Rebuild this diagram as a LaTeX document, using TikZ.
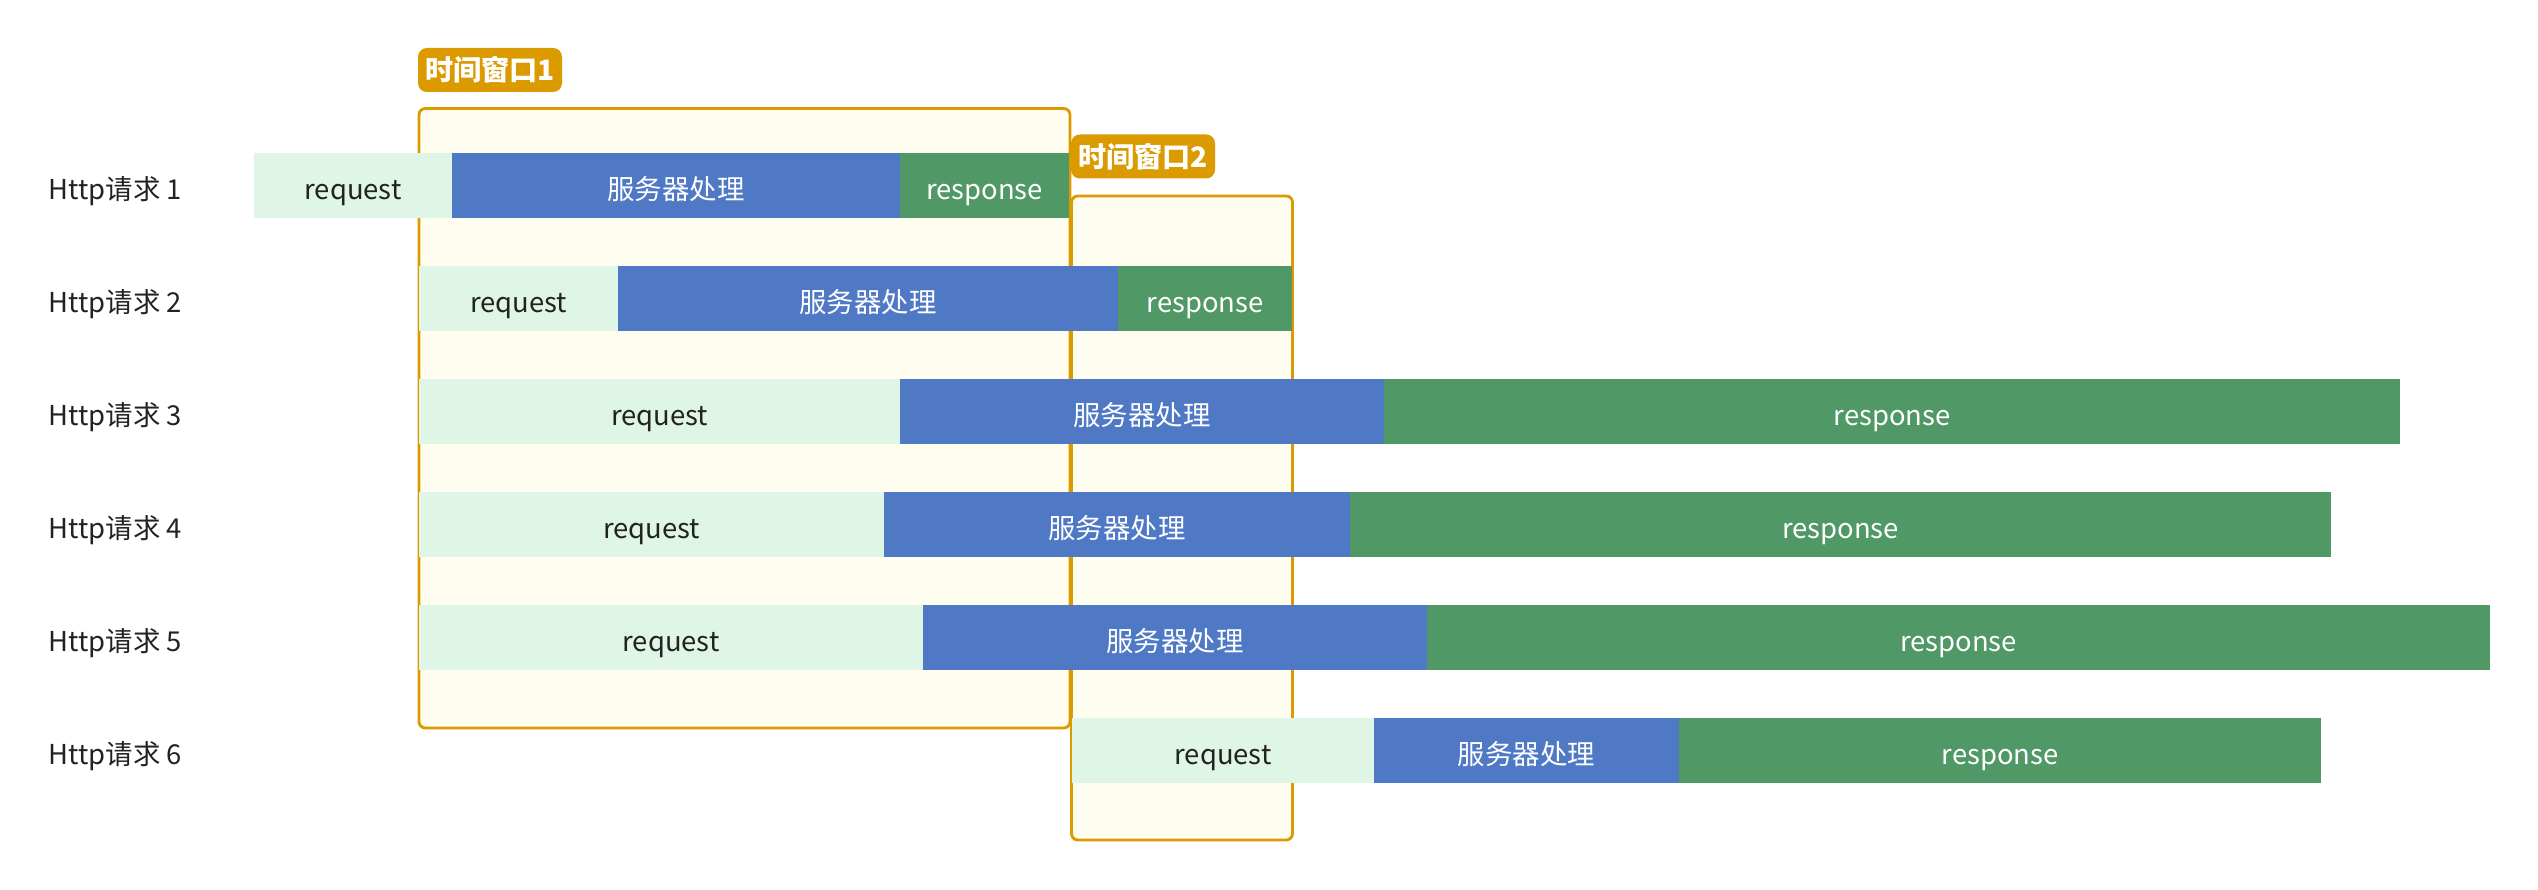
\documentclass[tikz,border=0pt]{standalone}
\usepackage{fontspec}
\setmainfont{Noto Sans CJK SC}
\usetikzlibrary{positioning}

\definecolor{reqfill}{HTML}{DFF5E5}
\definecolor{srvfill}{HTML}{4F78C5}
\definecolor{rspfill}{HTML}{509866}
\definecolor{winfill}{HTML}{FFFCF0}
\definecolor{winline}{HTML}{DA9A00}
\definecolor{inkdark}{HTML}{222222}

\tikzset{
  bar/.style={rectangle,inner sep=0pt,outer sep=0pt,minimum height=0.65cm,
    text height=0.8em,text depth=0pt,font=\fontsize{7.8}{9}\selectfont},
  reqbar/.style={bar,fill=reqfill,text=inkdark},
  srvbar/.style={bar,fill=srvfill,text=white},
  rspbar/.style={bar,fill=rspfill,text=white},
  rowlabel/.style={inner sep=0pt,text=inkdark,text height=0.8em,text depth=0pt,
    font=\fontsize{7.8}{9}\selectfont},
  winbox/.style={draw=winline,fill=winfill,line width=0.8pt,rounded corners=1.8pt},
  wintag/.style={rectangle,fill=winline,text=white,rounded corners=2.5pt,inner sep=0pt,
    minimum width=1.44cm,minimum height=0.44cm,font=\fontsize{8}{9}\selectfont\bfseries},
}

\begin{document}
\begin{tikzpicture}[x=1cm,y=-1cm]
  \useasboundingbox (0,0) rectangle (25.38,8.90);
  % time windows
  \draw[winbox] (4.19,1.085) rectangle (10.70,7.28);
  \draw[winbox] (10.715,1.96) rectangle (12.925,8.40);
  \node[wintag] (w1) at (4.90,0.70) {时间窗口1};
  \node[wintag] (w2) at (11.43,1.565) {时间窗口2};
  % requests
  \foreach \i/\a/\b/\c/\d in {1/2.54/4.52/9.00/10.69, 2/4.19/6.18/11.18/12.92,
      3/4.19/9.00/13.84/24.00, 4/4.19/8.84/13.50/23.31,
      5/4.19/9.23/14.27/24.90, 6/10.72/13.74/16.79/23.21} {
    \pgfmathsetmacro{\y}{1.855+(\i-1)*1.13}
    \node[rowlabel,anchor=west] (h\i) at (0.48,\y) {Http请求 \i};
    \node[reqbar,minimum width={(\b-\a)*1cm},anchor=west] (q\i) at (\a,\y) {request};
    \node[srvbar,minimum width={(\c-\b)*1cm},right=0pt of q\i] (s\i) {服务器处理};
    \node[rspbar,minimum width={(\d-\c)*1cm},right=0pt of s\i] (p\i) {response};
  }
\end{tikzpicture}
\end{document}
